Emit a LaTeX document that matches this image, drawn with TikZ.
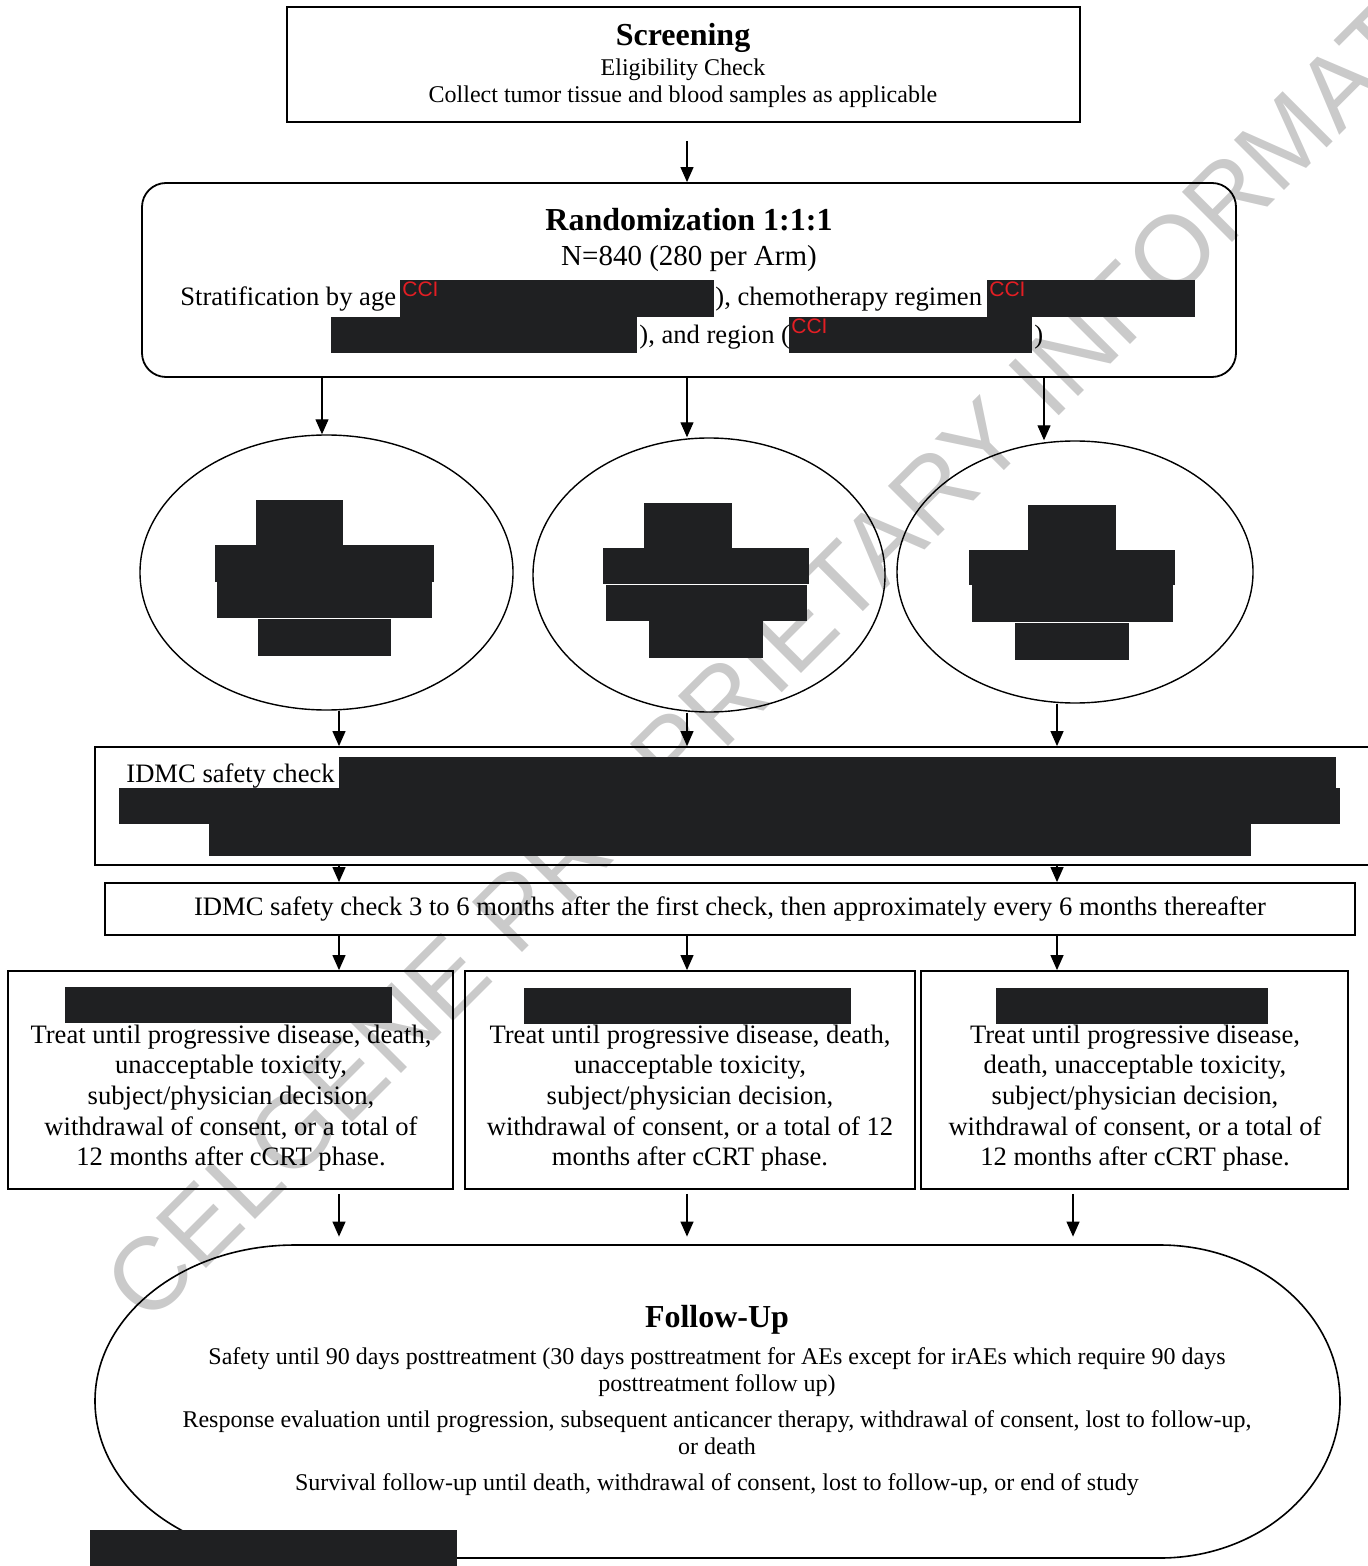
\documentclass[tikz,border=0pt]{standalone}
\usepackage{fontspec}
\setmainfont{Liberation Serif}
\newfontfamily\wmfont{Liberation Sans}
\usepackage{xcolor}
\usepackage{tikz}
\usetikzlibrary{arrows.meta}
\usetikzlibrary{shapes.geometric}
\definecolor{redactblack}{HTML}{1F2022}
\definecolor{ccired}{HTML}{E31E24}
\definecolor{wmgray}{HTML}{CACACA}
\newcommand\bodysize{\fontsize{13.3}{15.35}\selectfont}
\newcommand\subsize{\fontsize{12}{13.5}\selectfont}
\newcommand\headsize{\fontsize{16}{18}\selectfont\bfseries}
\tikzstyle{boxframe}=[draw,line width=.9pt,inner sep=0pt]
\tikzstyle{armoval}=[draw,ellipse,line width=.7pt,inner sep=0pt]
\tikzstyle{arr}=[line width=.6pt,-{Triangle[length=7.5pt,width=6.5pt]}]
\tikzstyle{lefttext}=[inner sep=0pt,anchor=base west,font=\bodysize]
\tikzstyle{ctext}=[inner sep=0pt,align=center]
\tikzstyle{ccilabel}=[inner sep=0pt,anchor=base west,text=ccired,font=\fontsize{10.5}{12}\wmfont]
\tikzstyle{redacted}=[fill=redactblack]

\begin{document}
\begin{tikzpicture}[x=0.5pt,y=-0.5pt]
	\useasboundingbox (0,0) rectangle (1367,1566);
	% watermark, behind everything
	\node[inner sep=0pt,anchor=base west,rotate=45,text=wmgray,font=\fontsize{51.5}{52}\wmfont] (wmark) at (148,1327) {CELGENE PROPRIETARY INFORMATION};

	% arrow columns
	\coordinate (xa) at (322,0);
	\coordinate (xl) at (339,0);
	\coordinate (xm) at (687,0);
	\coordinate (xb) at (1044,0);
	\coordinate (xr) at (1057,0);
	\coordinate (xs) at (1073,0);

	% screening
	\node[boxframe,minimum width=396.5pt,minimum height=57.5pt] (scr) at (683.5,64.5) {};
	\node[ctext,font=\headsize] (scrtitle) at (683,38) {Screening};
	\node[ctext,font=\subsize] (scrtext) at (683,83) {Eligibility Check\\Collect tumor tissue and blood samples as applicable};

	% randomization
	\node[boxframe,rounded corners=12pt,minimum width=547pt,minimum height=97pt] (rand) at (689,280) {};
	\node[ctext,font=\headsize] (randtitle) at (689,220) {Randomization 1:1:1};
	\node[ctext,font=\fontsize{14.5}{16}\selectfont] (randn) at (689,259) {N=840 (280 per Arm)};
	\node[lefttext] (strat) at (180,306) {Stratification by age};
	\node[lefttext] (strat2) at (715,306) {), chemotherapy regimen};
	\node[lefttext] (strat3) at (639,344) {), and region (};
	\node[lefttext] (strat4) at (1034,344) {)};

	% arms
	\node[armoval,minimum width=186.5pt,minimum height=137.5pt] (arm1) at (326.5,572.5) {};
	\node[armoval,minimum width=176pt,minimum height=137pt] (arm2) at (709,575) {};
	\node[armoval,minimum width=178pt,minimum height=131pt] (arm3) at (1075,572) {};

	% safety checks
	\node[boxframe,minimum width=642.5pt,minimum height=59pt] (idmc) at (737.5,806) {};
	\node[lefttext] (idmclabel) at (126,782) {IDMC safety check};
	\node[boxframe,minimum width=625pt,minimum height=26pt,font=\bodysize] (idmc2) at (730,909) {IDMC safety check 3 to 6 months after the first check, then approximately every 6 months thereafter};

	% treatment
	\node[boxframe,minimum width=222.5pt,minimum height=109pt] (treat1) at (230.5,1080) {};
	\node[boxframe,minimum width=225pt,minimum height=109pt] (treat2) at (690,1080) {};
	\node[boxframe,minimum width=213.5pt,minimum height=109pt] (treat3) at (1134.5,1080) {};
	\node[ctext,font=\bodysize] (treattext1) at (231,1098) {Treat until progressive disease, death,\\unacceptable toxicity,\\subject/physician decision,\\withdrawal of consent, or a total of\\12 months after cCRT phase.};
	\node[ctext,font=\bodysize] (treattext2) at (690,1098) {Treat until progressive disease, death,\\unacceptable toxicity,\\subject/physician decision,\\withdrawal of consent, or a total of 12\\months after cCRT phase.};
	\node[ctext,font=\bodysize] (treattext3) at (1135,1098) {Treat until progressive disease,\\death, unacceptable toxicity,\\subject/physician decision,\\withdrawal of consent, or a total of\\12 months after cCRT phase.};

	% follow-up
	\node[inner sep=0pt,minimum width=622.5pt,minimum height=156.5pt] (fu) at (717.5,1401.5) {};
	\draw[line width=.8pt] (295,1245) -- (1160,1245)
		.. controls (1259.4,1245) and (1340,1314.8) .. (1340,1401)
		.. controls (1340,1487.7) and (1259.4,1558) .. (1160,1558)
		-- (295,1558)
		.. controls (184.5,1558) and (95,1487.7) .. (95,1401)
		.. controls (95,1314.8) and (184.5,1245) .. (295,1245) -- cycle;
	\node[ctext,font=\headsize] (futitle) at (717,1320) {Follow-Up};
	\node[ctext,font=\fontsize{12}{13.5}\selectfont] (futext) at (717,1422) {Safety until 90 days posttreatment (30 days posttreatment for AEs except for irAEs which require 90 days\\posttreatment follow up)\\[4.5pt]Response evaluation until progression, subsequent anticancer therapy, withdrawal of consent, lost to follow-up,\\or death\\[4.5pt]Survival follow-up until death, withdrawal of consent, lost to follow-up, or end of study};

	% arrows
	\draw[arr,shorten <=9pt] (scr.south -| xm) -- (rand.north -| xm);
	\draw[arr] (rand.south -| xa) -- (arm1.north -| xa);
	\draw[arr] (rand.south -| xm) -- (arm2.north -| xm);
	\draw[arr] (rand.south -| xb) -- (arm3.north -| xb);
	\draw[arr] (arm1.south -| xl) -- (idmc.north -| xl);
	\draw[arr] (arm2.south -| xm) -- (idmc.north -| xm);
	\draw[arr] (arm3.south -| xr) -- (idmc.north -| xr);
	\draw[arr] (idmc.south -| xl) -- (idmc2.north -| xl);
	\draw[arr] (idmc.south -| xr) -- (idmc2.north -| xr);
	\draw[arr] (idmc2.south -| xl) -- (treat1.north -| xl);
	\draw[arr] (idmc2.south -| xm) -- (treat2.north -| xm);
	\draw[arr] (idmc2.south -| xr) -- (treat3.north -| xr);
	\draw[arr,shorten <=2pt,shorten >=4pt] (treat1.south -| xl) -- (fu.north -| xl);
	\draw[arr,shorten <=2pt,shorten >=4pt] (treat2.south -| xm) -- (fu.north -| xm);
	\draw[arr,shorten <=2pt,shorten >=4pt] (treat3.south -| xs) -- (fu.north -| xs);

	% redactions
	\fill[redacted] (400,280) rectangle (714,317);
	\fill[redacted] (987,280) rectangle (1195,317);
	\fill[redacted] (331,317) rectangle (637,353);
	\fill[redacted] (789,317) rectangle (1032,353);
	\node[ccilabel] (cci1) at (402,297) {CCI};
	\node[ccilabel] (cci2) at (989,297) {CCI};
	\node[ccilabel] (cci3) at (791,334) {CCI};
	\fill[redacted] (256,500) rectangle (343,545);
	\fill[redacted] (215,545) rectangle (434,582);
	\fill[redacted] (217,582) rectangle (432,618);
	\fill[redacted] (258,619) rectangle (391,656);
	\fill[redacted] (644,503) rectangle (732,548);
	\fill[redacted] (603,548) rectangle (809,584);
	\fill[redacted] (606,585) rectangle (807,621);
	\fill[redacted] (649,621) rectangle (763,658);
	\fill[redacted] (1028,505) rectangle (1116,550);
	\fill[redacted] (969,550) rectangle (1175,585);
	\fill[redacted] (972,585) rectangle (1173,622);
	\fill[redacted] (1015,623) rectangle (1129,660);
	\fill[redacted] (339,757) rectangle (1336,790);
	\fill[redacted] (119,788) rectangle (1340,824);
	\fill[redacted] (209,824) rectangle (1251,856);
	\fill[redacted] (65,987) rectangle (392,1023);
	\fill[redacted] (524,988) rectangle (851,1024);
	\fill[redacted] (996,988) rectangle (1268,1024);
	\fill[redacted] (90,1530) rectangle (457,1566);
\end{tikzpicture}
\end{document}
